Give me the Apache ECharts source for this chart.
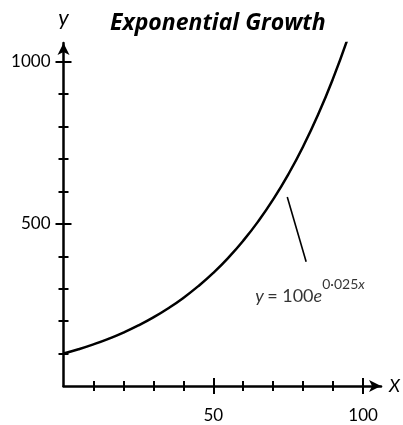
<!DOCTYPE html>
<html>
<head>
<meta charset="utf-8">
<script src="https://cdn.jsdelivr.net/npm/echarts@6/dist/echarts.min.js"></script>
<style>
  html, body { margin: 0; padding: 0; background: #fff; }
  #chart { width: 403px; height: 425px; }
</style>
</head>
<body>
<div id="chart"></div>
<script>
// Curve points of y = 100e^(0.025x)
const xValues = [0, 5, 10, 15, 20, 25, 30, 35, 40, 45, 50, 55, 60, 65, 70, 75, 80, 85, 90, 94.7];
const yValues = [100, 113.3, 128.4, 145.5, 164.9, 186.8, 211.7, 239.9, 271.8, 308.0, 349.0,
                 395.5, 448.2, 507.8, 575.5, 652.1, 738.9, 837.3, 948.8, 1067];

// Axis ticks and labels
const xMinorTicks = [10, 20, 30, 40, 60, 70, 80, 90];
const xMajorTicks = [50, 100];
const xTickLabels = [50, 100];
const yMinorTicks = [100, 200, 300, 400, 600, 700, 800, 900];
const yMajorTicks = [500, 1000];
const yTickLabels = [500, 1000];

// Leader line from the curve to the equation label
const leaderX = [74.7, 81.0];
const leaderY = [583, 383];
const equationAt = [64, 291];

const X_MAX = 106;
const Y_MAX = 1058;
const ink = '#000';
const font = 'Lato, "Open Sans", sans-serif';
const titleFont = '"Open Sans", Lato, sans-serif';

function xAxisDef(ticks, len, inside, main) {
  return {
    type: 'value', min: 0, max: X_MAX, position: 'bottom',
    splitLine: { show: false },
    axisLine: main ? {
      show: true, onZero: false, symbol: ['none', 'arrow'], symbolSize: [9, 12],
      lineStyle: { color: ink, width: 2.5 }
    } : { show: false },
    axisTick: { show: true, customValues: ticks, length: len, inside: inside,
      lineStyle: { color: ink, width: 2 } },
    axisLabel: main ? { show: true, customValues: xTickLabels, margin: 21,
      formatter: v => String(v),
      color: ink, fontFamily: font, fontSize: 17 } : { show: false },
    name: main ? 'X' : '', nameLocation: 'end', nameGap: 8,
    nameTextStyle: { color: ink, fontFamily: font, fontSize: 18, fontStyle: 'italic',
      verticalAlign: 'middle' }
  };
}

function yAxisDef(ticks, len, inside, main) {
  return {
    type: 'value', min: 0, max: Y_MAX, position: 'left',
    splitLine: { show: false },
    axisLine: main ? {
      show: true, onZero: false, symbol: ['none', 'arrow'], symbolSize: [9, 12],
      lineStyle: { color: ink, width: 2.5 }
    } : { show: false },
    axisTick: { show: true, customValues: ticks, length: len, inside: inside,
      lineStyle: { color: ink, width: 2 } },
    axisLabel: main ? { show: true, customValues: yTickLabels, margin: 13,
      formatter: v => String(v),
      color: ink, fontFamily: font, fontSize: 17 } : { show: false },
    name: main ? 'y' : '', nameLocation: 'end', nameGap: 14,
    nameTextStyle: { color: ink, fontFamily: font, fontSize: 22, fontStyle: 'italic',
      align: 'center' }
  };
}

const chart = echarts.init(document.getElementById('chart'), null, { renderer: 'canvas' });

chart.setOption({
  animation: false,
  backgroundColor: '#fff',
  grid: { left: 63.5, right: 20, top: 43, bottom: 39, containLabel: false },
  title: {
    text: 'Exponential Growth', left: 105, top: 7,
    textStyle: { color: ink, fontFamily: titleFont, fontSize: 23, fontWeight: 'bold', fontStyle: 'italic' }
  },
  xAxis: [
    xAxisDef(xMinorTicks, 5, false, true),
    xAxisDef(xMinorTicks, 5, true, false),
    xAxisDef(xMajorTicks, 8, false, false),
    xAxisDef(xMajorTicks, 8, true, false)
  ],
  yAxis: [
    yAxisDef(yMinorTicks, 5, false, true),
    yAxisDef(yMinorTicks, 5, true, false),
    yAxisDef(yMajorTicks, 8, false, false),
    yAxisDef(yMajorTicks, 8, true, false)
  ],
  series: [
    {
      type: 'line', xAxisIndex: 0, yAxisIndex: 0, smooth: true, showSymbol: false,
      lineStyle: { color: ink, width: 2.5 },
      data: xValues.map((x, i) => [x, yValues[i]])
    },
    {
      type: 'line', xAxisIndex: 0, yAxisIndex: 0, showSymbol: false,
      lineStyle: { color: ink, width: 1.6 },
      data: leaderX.map((x, i) => [x, leaderY[i]])
    },
    {
      type: 'scatter', xAxisIndex: 0, yAxisIndex: 0, symbolSize: 0,
      data: [equationAt],
      label: {
        show: true, position: 'right', distance: 0,
        formatter: '{v|y} {n|= 100}{v|e}{s|0·025}{sv|x}',
        rich: {
          v: { fontFamily: font, fontSize: 18, fontStyle: 'italic', color: ink, verticalAlign: 'bottom' },
          n: { fontFamily: font, fontSize: 18, color: ink, verticalAlign: 'bottom' },
          s: { fontFamily: font, fontSize: 14, color: ink, verticalAlign: 'top', padding: [0, 0, 14, 0] },
          sv: { fontFamily: font, fontSize: 14, fontStyle: 'italic', color: ink, verticalAlign: 'top', padding: [0, 0, 14, 0] }
        }
      }
    }
  ]
});
</script>
</body>
</html>
